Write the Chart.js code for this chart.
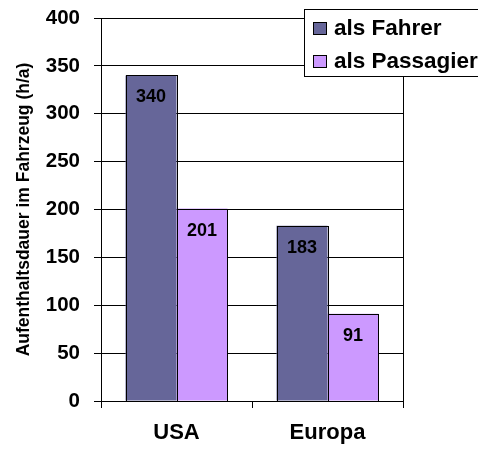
<!DOCTYPE html>
<html>
<head>
<meta charset="utf-8">
<script src="https://cdn.jsdelivr.net/npm/chart.js@4/dist/chart.umd.min.js"></script>
<style>
  html, body { margin: 0; padding: 0; background: #fff; }
  #wrap { width: 478px; height: 449px; }
</style>
</head>
<body>
<div id="wrap"><canvas id="c" width="478" height="449"></canvas></div>
<script>
const categories = ['USA', 'Europa'];
const seriesNames = ['als Fahrer', 'als Passagier'];
const fahrerValues = [340, 183];
const passagierValues = [201, 91];
const yAxisTitle = 'Aufenthaltsdauer im Fahrzeug (h/a)';
const yMin = 0, yMax = 400, yStep = 50;

const FONT = '"Liberation Sans", Arial, Helvetica, sans-serif';
const colors = ['#666699', '#CC99FF'];

const labelPlugin = {
  id: 'barLabels',
  afterDatasetsDraw(chart) {
    const ctx = chart.ctx;
    ctx.save();
    ctx.strokeStyle = '#000';
    ctx.lineWidth = 1;
    chart.data.datasets.forEach((ds, i) => {
      const meta = chart.getDatasetMeta(i);
      meta.data.forEach((bar) => {
        const p = bar.getProps(['x', 'y', 'base', 'width'], true);
        const l = Math.round(p.x - p.width / 2) + 0.5;
        const r = Math.round(p.x + p.width / 2) + 0.5;
        const t = Math.round(p.y) + 0.5;
        const b = Math.round(p.base) + 0.5;
        ctx.strokeRect(l, t, r - l, b - t);
      });
    });
    ctx.font = 'bold 18px ' + FONT;
    ctx.fillStyle = '#000';
    ctx.textAlign = 'center';
    ctx.textBaseline = 'middle';
    chart.data.datasets.forEach((ds, i) => {
      const meta = chart.getDatasetMeta(i);
      meta.data.forEach((bar, j) => {
        ctx.fillText(String(ds.data[j]), bar.x, bar.y + 22);
      });
    });
    ctx.restore();
  }
};

const framePlugin = {
  id: 'frameAndLegend',
  afterDraw(chart) {
    const ctx = chart.ctx;
    const a = chart.chartArea;
    ctx.save();
    ctx.strokeStyle = '#000';
    ctx.lineWidth = 1;
    ctx.beginPath();
    ctx.moveTo(Math.round(a.right) + 0.5, a.top);
    ctx.lineTo(Math.round(a.right) + 0.5, a.bottom);
    ctx.stroke();
    ctx.fillStyle = '#fff';
    ctx.fillRect(304, 9, 200, 67);
    ctx.strokeRect(304.5, 9.5, 200, 67);
    ctx.font = 'bold 22.5px ' + FONT;
    ctx.textBaseline = 'middle';
    ctx.textAlign = 'left';
    chart.data.datasets.forEach((ds, i) => {
      const y = 22 + i * 33;
      ctx.fillStyle = ds.backgroundColor;
      ctx.fillRect(313, y, 14, 13);
      ctx.strokeStyle = '#000';
      ctx.strokeRect(313.5, y + 0.5, 13, 12);
      ctx.fillStyle = '#000';
      ctx.fillText(ds.label, 334, y + 7);
    });
    ctx.restore();
  }
};

new Chart(document.getElementById('c'), {
  type: 'bar',
  data: {
    labels: categories,
    datasets: [
      { label: seriesNames[0], data: fahrerValues, backgroundColor: colors[0], borderWidth: 0 },
      { label: seriesNames[1], data: passagierValues, backgroundColor: colors[1], borderWidth: 0 }
    ]
  },
  options: {
    responsive: false,
    animation: false,
    devicePixelRatio: 1,
    layout: { padding: { left: 0, top: 18, right: 75, bottom: 0 } },
    datasets: { bar: { categoryPercentage: 0.675, barPercentage: 1.0 } },
    plugins: { legend: { display: false }, tooltip: { enabled: false } },
    scales: {
      x: {
        afterFit(scale) { scale.height = 48; scale.paddingLeft = 0; scale.paddingRight = 0; },
        grid: { display: true, offset: true, drawOnChartArea: false, drawTicks: true, tickLength: 7, color: '#000', lineWidth: 1 },
        border: { display: true, color: '#000', width: 1 },
        ticks: { color: '#000', padding: 12, font: { family: FONT, size: 22, weight: 'bold' } }
      },
      y: {
        min: yMin, max: yMax,
        afterFit(scale) { scale.width = 101; scale.paddingTop = 0; scale.paddingBottom = 0; },
        grid: { display: true, drawOnChartArea: true, drawTicks: true, tickLength: 7, color: '#000', lineWidth: 1 },
        border: { display: true, color: '#000', width: 1 },
        ticks: { stepSize: yStep, color: '#000', padding: 14, font: { family: FONT, size: 20.5, weight: 'bold' } },
        title: { display: true, text: yAxisTitle, color: '#000', padding: { top: 14, bottom: 0 }, font: { family: FONT, size: 17.5, weight: 'bold' } }
      }
    }
  },
  plugins: [labelPlugin, framePlugin]
});
</script>
</body>
</html>
